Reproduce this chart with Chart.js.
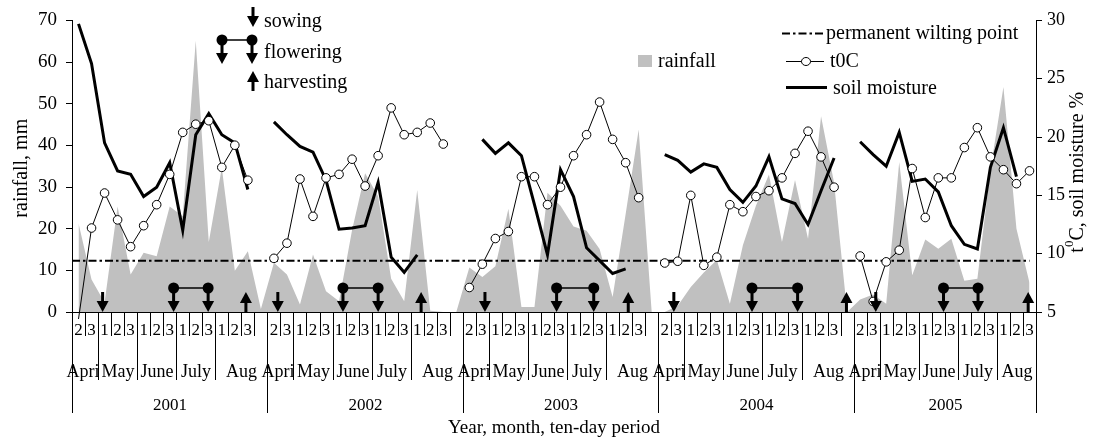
<!DOCTYPE html>
<html>
<head>
<meta charset="utf-8">
<script src="https://cdn.jsdelivr.net/npm/chart.js@4.4.0/dist/chart.umd.min.js"></script>
<style>
  html, body { margin: 0; padding: 0; background: #fff; }
  canvas { display: block; }
</style>
</head>
<body>
<canvas id="chart" width="1093" height="437"></canvas>
<script>
// ten-day periods shown for every year (April 2 .. August 3), one empty slot between years
const years = ['2001', '2002', '2003', '2004', '2005'];
const months = ['April', 'May', 'June', 'July', 'Aug'];
const monthPeriods = [2, 3, 3, 3, 3];
const tenDays = ['2', '3', '1', '2', '3', '1', '2', '3', '1', '2', '3', '1', '2', '3'];

// rainfall, mm (left axis)
const rainfall = [
  21.3, 7.8, 2.3, 25.3, 9.0, 14.2, 13.4, 25.3, 23.0, 65.1, 16.8, 34.6, 9.9, 14.6, 0.7,
  11.8, 9.0, 1.8, 13.8, 5.0, 2.6, 19.7, 33.3, 27.8, 8.0, 2.6, 29.3, 0.3, 0, 0,
  10.7, 8.4, 11.0, 24.8, 1.2, 1.2, 28.6, 25.5, 20.5, 19.5, 15.1, 3.6, 23.5, 43.8, 0,
  0, 1.5, 6.0, 9.5, 12.5, 2.0, 16.0, 25.5, 33.0, 16.8, 31.7, 17.6, 47.0, 31.0, 0,
  3.0, 4.2, 2.0, 36.0, 8.8, 17.4, 15.2, 17.6, 7.5, 8.0, 34.0, 54.0, 20.0, 7.0
];

// air temperature, degC (right axis)
const temperature = [
  4.4, 12.2, 15.2, 12.9, 10.6, 12.4, 14.2, 16.8, 20.4, 21.1, 21.4, 17.4, 19.3, 16.3, null,
  9.6, 10.9, 16.4, 13.2, 16.5, 16.8, 18.1, 15.8, 18.4, 22.5, 20.2, 20.4, 21.2, 19.4, null,
  7.1, 9.1, 11.3, 11.9, 16.6, 16.6, 14.2, 15.7, 18.4, 20.2, 23.0, 19.8, 17.8, 14.8, null,
  9.2, 9.35, 15.0, 9.0, 9.7, 14.2, 13.6, 14.9, 15.4, 16.5, 18.6, 20.5, 18.3, 15.7, null,
  9.8, 5.9, 9.3, 10.3, 17.3, 13.1, 16.5, 16.5, 19.1, 20.8, 18.3, 17.2, 16.0, 17.1
];

// soil moisture, % (right axis)
const soilMoisture = [
  29.7, 26.3, 19.5, 17.1, 16.8, 14.9, 15.7, 17.8, 12.0, 20.2, 22.0, 20.2, 19.5, 15.5, null,
  21.3, 20.2, 19.2, 18.7, 16.3, 12.1, 12.2, 12.4, 16.1, 9.7, 8.4, 9.9, null, null, null,
  null, 19.8, 18.6, 19.5, 18.4, 14.2, 9.9, 17.2, 14.9, 10.5, 9.4, 8.3, 8.7, null, null,
  18.5, 18.0, 17.0, 17.7, 17.4, 15.5, 14.4, 15.8, 18.3, 14.7, 14.3, 12.5, 15.4, 18.2, null,
  19.6, 18.5, 17.5, 20.4, 16.2, 16.4, 15.3, 12.4, 10.8, 10.4, 17.4, 20.8, 16.6, null
];

const wiltingPoint = 9.4;

// crop phases, as (fractional) slot positions
const sowing = [1.85, 15.3, 31.2, 45.7, 61.2];
const flowering = [[7.3, 9.95], [20.3, 23.0], [36.7, 39.55], [51.7, 55.2], [66.4, 69.05]];
const harvesting = [12.85, 26.3, 42.2, 58.95, 72.9];

const labels = years.flatMap((y, k) => k < years.length - 1 ? [...tenDays, ''] : tenDays);

const SERIF = "'Liberation Serif', 'Times New Roman', serif";

function downArrow(ctx, x, yb) {
  ctx.fillRect(x - 1.5, yb - 20, 3, 10);
  ctx.beginPath();
  ctx.moveTo(x - 6, yb - 11);
  ctx.lineTo(x + 6, yb - 11);
  ctx.lineTo(x, yb);
  ctx.closePath();
  ctx.fill();
}

function upArrow(ctx, x, yb) {
  ctx.fillRect(x - 1.5, yb - 11, 3, 11);
  ctx.beginPath();
  ctx.moveTo(x - 6, yb - 9);
  ctx.lineTo(x + 6, yb - 9);
  ctx.lineTo(x, yb - 20);
  ctx.closePath();
  ctx.fill();
}

function floweringPair(ctx, x1, x2, yb) {
  ctx.lineWidth = 1.5;
  ctx.beginPath();
  ctx.moveTo(x1, yb - 24);
  ctx.lineTo(x2, yb - 24);
  ctx.stroke();
  [x1, x2].forEach(x => {
    downArrow(ctx, x, yb);
    ctx.beginPath();
    ctx.arc(x, yb - 24, 5.5, 0, Math.PI * 2);
    ctx.fill();
  });
}

function dashDot(ctx, x1, x2, y) {
  ctx.save();
  ctx.lineWidth = 2;
  ctx.setLineDash([8, 3, 2.5, 3]);
  ctx.beginPath();
  ctx.moveTo(x1, y);
  ctx.lineTo(x2, y);
  ctx.stroke();
  ctx.restore();
}

const decorations = {
  id: 'decorations',
  afterDatasetDraw(chart, args) {
    if (args.index !== 0) return;
    const { ctx, scales } = chart;
    const y = scales.yTemp.getPixelForValue(wiltingPoint);
    ctx.save();
    ctx.strokeStyle = '#000';
    dashDot(ctx, scales.x.getPixelForValue(-0.5), scales.x.getPixelForValue(labels.length - 1), y);
    ctx.restore();
  },
  afterDraw(chart) {
    const { ctx, scales, chartArea } = chart;
    const x = scales.x;
    const base = scales.yRain.getPixelForValue(0);
    ctx.save();
    ctx.fillStyle = '#000';
    ctx.strokeStyle = '#000';

    // phase markers
    sowing.forEach(p => downArrow(ctx, x.getPixelForValue(p), base));
    flowering.forEach(([a, b]) => floweringPair(ctx, x.getPixelForValue(a), x.getPixelForValue(b), base));
    harvesting.forEach(p => upArrow(ctx, x.getPixelForValue(p), base));

    // multi-level category axis
    const edge = i => Math.round(x.getPixelForValue(i - 0.5)) + 0.5;
    ctx.lineWidth = 1;
    ctx.beginPath();
    for (let i = 0; i <= labels.length; i++) {
      ctx.moveTo(edge(i), base);
      ctx.lineTo(edge(i), base + 24);
    }
    ctx.stroke();

    ctx.font = '17px ' + SERIF;
    ctx.textAlign = 'center';
    ctx.textBaseline = 'alphabetic';
    labels.forEach((l, i) => ctx.fillText(l, x.getPixelForValue(i), base + 23));

    years.forEach((yr, k) => {
      const start = k * (tenDays.length + 1);
      const end = k < years.length - 1 ? start + tenDays.length + 1 : start + tenDays.length;
      let m0 = start;
      ctx.font = '18px ' + SERIF;
      months.forEach((mo, j) => {
        const m1 = j < months.length - 1 ? m0 + monthPeriods[j] : end;
        const xa = edge(m0), xb = edge(m1);
        ctx.beginPath();
        ctx.moveTo(xa, base);
        ctx.lineTo(xa, base + 68);
        ctx.stroke();
        ctx.save();
        ctx.beginPath();
        ctx.rect(xa - 20, base + 40, xb - xa + 19.5, 30);
        ctx.clip();
        ctx.fillText(mo, (xa + xb) / 2, base + 65);
        ctx.restore();
        m0 = m1;
      });
      const xa = edge(start), xb = edge(end);
      ctx.beginPath();
      ctx.moveTo(xa, base);
      ctx.lineTo(xa, base + 101);
      ctx.moveTo(xb, base);
      ctx.lineTo(xb, base + 101);
      ctx.stroke();
      ctx.font = '17px ' + SERIF;
      ctx.fillText(yr, (xa + xb) / 2, base + 98);
    });

    ctx.font = '19px ' + SERIF;
    ctx.fillText('Year, month, ten-day period', (chartArea.left + chartArea.right) / 2, 433);

    // axis titles
    ctx.save();
    ctx.font = '20px ' + SERIF;
    ctx.translate(22, (chartArea.top + chartArea.bottom) / 2 + 2);
    ctx.rotate(-Math.PI / 2);
    ctx.textBaseline = 'middle';
    ctx.fillText('rainfall, mm', 0, 0);
    ctx.restore();

    ctx.save();
    ctx.translate(1083, (chartArea.top + chartArea.bottom) / 2 + 6);
    ctx.rotate(-Math.PI / 2);
    ctx.textAlign = 'left';
    const big = '20px ' + SERIF, small = '13px ' + SERIF;
    ctx.font = big; const wt = ctx.measureText('t').width;
    ctx.font = small; const w0 = ctx.measureText('0').width;
    ctx.font = big; const wr = ctx.measureText('C, soil moisture %').width;
    let tx = -(wt + w0 + wr) / 2;
    ctx.fillText('t', tx, 0); tx += wt;
    ctx.font = small; ctx.fillText('0', tx, -10); tx += w0;
    ctx.font = big; ctx.fillText('C, soil moisture %', tx, 0);
    ctx.restore();

    // legends
    ctx.font = '20px ' + SERIF;
    ctx.textAlign = 'left';
    downArrow(ctx, 253, 27);
    ctx.fillText('sowing', 264, 27);
    floweringPair(ctx, 222, 252, 64);
    ctx.fillText('flowering', 264, 58);
    upArrow(ctx, 253, 91);
    ctx.fillText('harvesting', 264, 88);

    ctx.fillStyle = '#c0c0c0';
    ctx.fillRect(638, 55, 14, 12);
    ctx.fillStyle = '#000';
    ctx.fillText('rainfall', 658, 67);

    dashDot(ctx, 782, 823, 33.5);
    ctx.fillText('permanent wilting point', 826, 39);
    ctx.lineWidth = 1;
    ctx.beginPath();
    ctx.moveTo(786, 61.5);
    ctx.lineTo(824, 61.5);
    ctx.stroke();
    ctx.beginPath();
    ctx.ellipse(806, 61.5, 4.5, 4, 0, 0, Math.PI * 2);
    ctx.fillStyle = '#fff';
    ctx.fill();
    ctx.stroke();
    ctx.fillStyle = '#000';
    ctx.fillText('t0C', 830, 67);
    ctx.lineWidth = 3;
    ctx.beginPath();
    ctx.moveTo(786, 87.5);
    ctx.lineTo(827, 87.5);
    ctx.stroke();
    ctx.fillText('soil moisture', 833, 94);
    ctx.restore();
  }
};

new Chart(document.getElementById('chart').getContext('2d'), {
  type: 'line',
  data: {
    labels: labels,
    datasets: [
      {
        label: 'rainfall',
        data: rainfall,
        yAxisID: 'yRain',
        fill: 'origin',
        backgroundColor: '#c0c0c0',
        borderWidth: 0,
        pointRadius: 0,
        tension: 0,
        order: 3
      },
      {
        label: 'soil moisture',
        data: soilMoisture,
        yAxisID: 'yTemp',
        borderColor: '#000',
        borderWidth: 3,
        pointRadius: 0,
        tension: 0,
        order: 2
      },
      {
        label: 't0C',
        data: temperature,
        yAxisID: 'yTemp',
        borderColor: '#000',
        borderWidth: 1,
        pointRadius: c => (c.raw !== null && c.raw < 5 ? 0 : 4.3),
        pointBackgroundColor: '#fff',
        pointBorderColor: '#000',
        pointBorderWidth: 1,
        tension: 0,
        clip: false,
        order: 1
      }
    ]
  },
  options: {
    responsive: false,
    animation: false,
    layout: { padding: { top: 18, left: 0, right: 0, bottom: 0 } },
    plugins: { legend: { display: false }, tooltip: { enabled: false } },
    scales: {
      x: {
        type: 'category',
        offset: true,
        grid: { display: false },
        ticks: { display: false },
        border: { display: true, color: '#000', width: 1 },
        afterFit: s => { s.height = 125; }
      },
      yRain: {
        position: 'left',
        min: 0,
        max: 70,
        ticks: { stepSize: 10, color: '#000', padding: 9, font: { family: SERIF, size: 19 } },
        grid: { drawOnChartArea: false, tickLength: 6, color: '#000' },
        border: { color: '#000', width: 1 },
        afterFit: s => { s.width = 72; }
      },
      yTemp: {
        position: 'right',
        min: 5,
        max: 30,
        ticks: { stepSize: 5, color: '#000', padding: 5, font: { family: SERIF, size: 18 } },
        grid: { drawOnChartArea: false, tickLength: 6, color: '#000' },
        border: { color: '#000', width: 1 },
        afterFit: s => { s.width = 57; }
      }
    }
  },
  plugins: [decorations]
});
</script>
</body>
</html>
